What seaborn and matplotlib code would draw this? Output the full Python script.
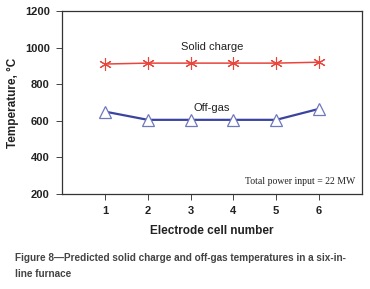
import matplotlib
matplotlib.use('Agg')
import matplotlib.pyplot as plt
import pandas as pd
import seaborn as sns

cells = [1, 2, 3, 4, 5, 6]
solid_charge = [910, 915, 915, 915, 915, 920]
off_gas = [650, 605, 605, 605, 605, 665]

df = pd.DataFrame({'cell': cells, 'Solid charge': solid_charge, 'Off-gas': off_gas})

sns.set_style('ticks')
plt.rcParams['font.family'] = ['Liberation Sans', 'DejaVu Sans']

fig = plt.figure(figsize=(3.7, 2.89), dpi=100)
ax = fig.add_axes([0.168, 0.329, 0.81, 0.633])

sns.lineplot(data=df, x='cell', y='Solid charge', ax=ax, color='#e8453c', lw=1.1,
             marker=(6, 2, 0), markersize=9, markeredgecolor='#e8453c',
             markeredgewidth=0.8)
sns.lineplot(data=df, x='cell', y='Off-gas', ax=ax, color='#3a44a0', lw=1.6,
             marker='^', markersize=9, markerfacecolor='white',
             markeredgecolor='#6f78bd', markeredgewidth=0.9)

ax.set_xlim(0, 7)
ax.set_ylim(200, 1200)
ax.set_xticks(cells)
ax.set_yticks([200, 400, 600, 800, 1000, 1200])
ax.tick_params(axis='both', which='major', direction='out',
               length=4, width=0.7, color='#444444', labelsize=8, pad=5)
for lab in ax.get_xticklabels() + ax.get_yticklabels():
    lab.set_fontweight('bold')
    lab.set_color('#222222')
for s in ax.spines.values():
    s.set_visible(True)
    s.set_color('#333333')
    s.set_linewidth(0.9)

ax.set_xlabel('Electrode cell number', fontsize=8.5, fontweight='bold', color='#222222', labelpad=6)
ax.set_ylabel('Temperature, °C', fontsize=8.5, fontweight='bold', color='#222222', labelpad=4)

ax.text(3.5, 1005, 'Solid charge', ha='center', va='center', fontsize=8, color='#222222')
ax.text(3.5, 672, 'Off-gas', ha='center', va='center', fontsize=8, color='#222222')
ax.text(6.85, 267, 'Total power input = 22 MW', ha='right', va='center', fontsize=7,
        family=['Liberation Serif', 'DejaVu Serif'], color='#222222')

fig.text(0.04, 0.108, 'Figure 8\u2014Predicted solid charge and off-gas temperatures in a six-in-',
         fontsize=7.2, fontweight='bold', color='#444444', va='center')
fig.text(0.04, 0.052, 'line furnace', fontsize=7.2, fontweight='bold', color='#444444', va='center')

fig.savefig('out.png', dpi=100)
